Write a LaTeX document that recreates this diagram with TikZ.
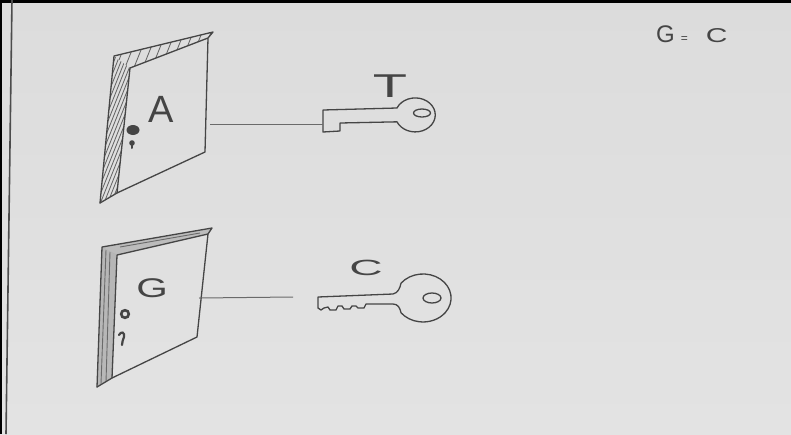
\documentclass[tikz,border=0pt]{standalone}
\usepackage{fontspec}
\usepackage{graphicx}
\setmainfont{Liberation Sans}
\definecolor{paper}{HTML}{DCDCDC}
\definecolor{paperlight}{HTML}{E3E3E3}
\definecolor{ink}{HTML}{454545}
\definecolor{lead}{HTML}{6A6A6A}
\begin{document}
\begin{tikzpicture}[x=1pt,y=-1pt,
  pencil/.style={draw=ink, line width=1.3pt, line join=round, line cap=round},
  hatch/.style={draw=lead, line width=0.9pt},
  wire/.style={draw=lead, line width=1pt},
  lab/.style={text=ink, inner sep=0pt}]
\useasboundingbox (0,0) rectangle (791,434);
% sheet of paper and its edges
\shade[top color=paper, bottom color=paperlight] (0,0) rectangle (791,434);
\fill[black] (0,0) rectangle (791,2.5);
\fill[black] (0,0) rectangle (2,434);
\draw[gray!60!black, line width=1.6pt] (12,0) -- (6,434);

% ---------- door A ----------
\coordinate (A1) at (114,56);
\coordinate (A2) at (213,32);
\coordinate (A3) at (208,38);
\coordinate (A4) at (130,68);
\coordinate (A5) at (117,193);
\coordinate (A6) at (205,152);
\coordinate (A7) at (100,203);
\begin{scope}
  \clip (A1) -- (A4) -- (A5) -- (A7) -- cycle;
  \foreach \yy in {60,69,...,280} \draw[hatch] (90,\yy+25) -- (140,\yy-100);
\end{scope}
\begin{scope}
  \clip (A1) -- (A2) -- (A3) -- (A4) -- cycle;
  \foreach \xx in {95,104,...,230} \draw[hatch] (\xx,75) -- ++(18,-45);
\end{scope}
\draw[pencil] (A7) -- (A1) -- (A2) -- (A3) -- (A6) -- (A5) -- (A4) -- (A3);
\draw[pencil] (A7) -- (A5);
\node[lab, font=\fontsize{38}{38}\selectfont] (labA) at (161,109) {A};
\fill[ink] (133,130) ellipse [x radius=6.5, y radius=5];
\fill[ink] (132,143) circle [radius=2.8];
\draw[ink, line width=2pt, line cap=round] (132,144) -- (132,148);

% ---------- door G ----------
\coordinate (G1) at (102,247);
\coordinate (G2) at (212,228);
\coordinate (G3) at (208,234);
\coordinate (G4) at (117,255);
\coordinate (G5) at (112,378);
\coordinate (G6) at (197,337);
\coordinate (G7) at (97,387);
\fill[lead, opacity=0.35] (G1) -- (G4) -- (G5) -- (G7) -- cycle;
\fill[lead, opacity=0.3] (G1) -- (G2) -- (G3) -- (G4) -- cycle;
\draw[hatch] (106,250) -- (101,384);
\draw[hatch] (110,252) -- (106,382);
\draw[hatch] (120,247) -- (200,233);
\draw[pencil] (G7) -- (G1) -- (G2) -- (G3) -- (G6) -- (G5) -- (G4) -- (G3);
\draw[pencil] (G7) -- (G5);
\node[lab, xscale=1.5, font=\fontsize{27}{27}\selectfont] (labG) at (152,288) {G};
\draw[ink, line width=2.6pt] (125,314) circle [radius=3.8];
\draw[ink, line width=2.2pt, line cap=round] (119,335) .. controls (121,331) and (125,332) .. (124,337) .. controls (123,340) and (122,342) .. (122,345);

% ---------- key T ----------
\draw[pencil] (397,108) arc [start angle=204, end angle=516, x radius=20, y radius=17]
  -- (340,123) -- (340,131) -- (323,132) -- (323,110) -- cycle;
\draw[pencil] (422,113) ellipse [x radius=8.5, y radius=4];
\node[lab, xscale=1.7, font=\fontsize{33}{33}\selectfont] (labT) at (390,86) {T};

% ---------- key C ----------
\draw[pencil] (318,297) -- (393,294) .. controls (398,293) and (400,288) .. (401,283.2)
  arc [start angle=218, end angle=502, x radius=28, y radius=24]
  .. controls (400,308) and (398,304) .. (393,304)
  -- (366,304) -- (364,308) -- (358,308) -- (356,306) -- (352,306) -- (350,309)
  -- (344,309) -- (342,306) -- (338,306) -- (336,310) -- (330,310) -- (328,307)
  -- (324,308) -- (321,310) -- (318,308) -- cycle;
\draw[pencil] (432,298) ellipse [x radius=9, y radius=5];
\node[lab, xscale=2.1, font=\fontsize{22}{22}\selectfont] (labC) at (366,268) {C};

% ---------- connectors ----------
\coordinate (doorA-e) at (210,124);
\coordinate (keyT-w) at (323,124);
\draw[wire] (doorA-e) -- (keyT-w);
\coordinate (doorG-e) at (199,298);
\coordinate (keyC-w) at (293,297);
\draw[wire] (doorG-e) -- (keyC-w);

% ---------- note ----------
\node[lab, anchor=west] (note) at (656,34)
  {{\fontsize{24}{24}\selectfont G}\hspace{6pt}{\fontsize{12}{12}\selectfont =}\hspace{18pt}\scalebox{1.5}[1]{\fontsize{20}{20}\selectfont C}};
\end{tikzpicture}
\end{document}
